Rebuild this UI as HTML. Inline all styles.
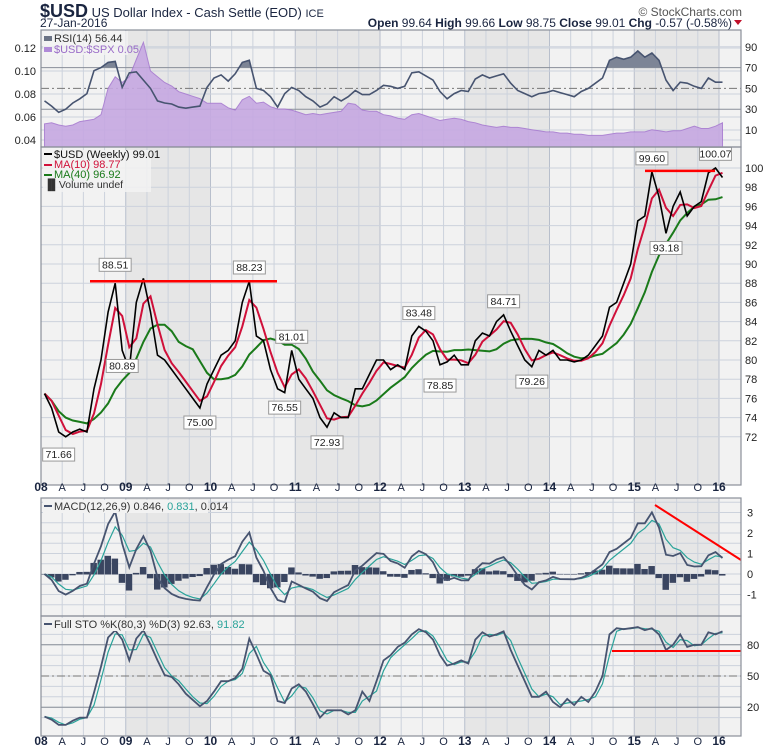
<!DOCTYPE html>
<html><head><meta charset="utf-8"><style>
body{margin:0;background:#fff;font-family:"Liberation Sans",sans-serif}
svg text{font-family:"Liberation Sans",sans-serif}
</style></head><body>
<svg id="c" width="780" height="750" xmlns="http://www.w3.org/2000/svg"></svg>
<script>
const price=[76.5,75,72.5,72,72.5,72.8,72.5,77,80,85,88,81,
79,86,88.5,85,80.5,80,79,78,77,76,75,77.5,
79,80.5,81,82,86,88.2,82.5,82,79,77,76.6,81,
78,77,76,74,73,74.5,74,74,77,77,78.5,80,
80,79,79.5,79,82.5,83.5,83,82,79.5,79.8,80.5,79.5,
79.5,82,82.8,82.5,84,84.7,83,81.5,80,79.3,81,80.5,
81,80,80,79.8,80,80.5,81.5,82.5,85.5,86,88,90,
94.5,95,99.6,97,93.2,96,97.5,95,96,96.5,99.5,100,
99.01];
const ratio=[.054,.055,.053,.052,.053,.056,.057,.058,.062,.085,.095,.09,
.095,.11,.125,.1,.095,.09,.087,.082,.08,.078,.076,.072,
.072,.072,.068,.066,.075,.078,.072,.073,.069,.067,.067,.066,
.064,.062,.063,.062,.063,.064,.065,.072,.071,.066,.065,.065,
.062,.061,.059,.058,.062,.063,.061,.059,.057,.058,.059,.058,
.056,.055,.053,.052,.051,.052,.051,.051,.05,.049,.048,.047,
.047,.046,.046,.045,.045,.044,.044,.044,.045,.046,.046,.047,
.047,.047,.049,.048,.047,.048,.048,.05,.052,.05,.05,.052,
.055];
const rsiVals=[38,33,27,30,36,40,45,67,70,75,76,51,
65,66,58,50,38,36,35,32,31,32,33,51,
60,63,57,64,75,77,50,48,42,32,45,51,
48,42,38,32,35,42,38,42,48,44,44,48,
53,52,50,52,65,66,62,58,47,40,45,48,
47,59,63,60,62,64,55,48,45,42,45,46,
48,46,44,42,47,50,55,60,77,80,78,80,
86,80,84,77,58,48,56,55,52,50,60,56,
56];
const stoVals=[11,8,3,3,7,10,10,34,59,87,94,85,
65,86,94,80,65,51,49,42,33,27,21,26,
35,45,45,48,57,86,71,55,51,26,24,38,
42,35,23,10,17,17,17,13,17,35,26,45,
65,70,78,82,90,95,92,85,70,60,62,65,
62,85,92,88,90,93,75,60,45,30,30,35,
25,20,28,22,30,25,35,50,90,96,95,96,
97,94,96,90,75,80,90,78,80,80,92,90,
93];
const yearLabels=["08","09","10","11","12","13","14","15","16"];
const qLabels=["A","J","O"];
const priceTicks=[72,74,76,78,80,82,84,86,88,90,92,94,96,98,100];
const ratioTicks=[0.04,0.06,0.08,0.10,0.12];
const rsiTicks=[10,30,50,70,90];
const macdTicks=[-1,0,1,2,3];
const stoTicks=[20,50,80];
const annos=[[2,71.66,-1],[10,88.51,1],[11,80.89,-1],[22,75.00,-1],[29,88.23,1],[34,76.55,-1],[35,81.01,1],[40,72.93,-1],[53,83.48,1],[56,78.85,-1],[65,84.71,1],[69,79.26,-1],[86,99.60,1],[88,93.18,-1],[95,100.07,1]];

const S=document.getElementById('c'),NS='http://www.w3.org/2000/svg';
function el(t,a,p){const e=document.createElementNS(NS,t);for(const k in a)e.setAttribute(k,a[k]);(p||S).appendChild(e);return e;}
const L=41,R=741,MW=84.75/12;
const X=i=>L+(i+0.5)*MW;
const P1={t:30,b:147},P2={t:147,b:485},P3={t:498,b:616},P4={t:616,b:736};
const yR=v=>140-(v-0.04)/0.08*92;
const yRSI=v=>130-(v-10)*1.04;
const yP=v=>168+(100-v)*9.6;
const yM=v=>574-v*20.5;
const yS=v=>728-v*1.04;

function sma(a,n){return a.map((v,i)=>{const s=a.slice(Math.max(0,i-n+1),i+1);return s.reduce((x,y)=>x+y,0)/s.length;});}
function ema(a,n){const k=2/(n+1);let e=a[0];return a.map(v=>e=v*k+e*(1-k));}
const ma10=sma(price,2).map((v,i)=>(v+sma(price,3)[i])/2);
const ma40=sma(price,9);
const macd=ema(price,3).map((v,i)=>(v-ema(price,6)[i])*0.9);
const sig=ema(macd,3);
const hist=macd.map((v,i)=>v-sig[i]);
const stoD=sma(stoVals,2);

[P1,P2,P3,P4].forEach((p,pi)=>{
 const g=el('g',{});
 el('rect',{x:L,y:p.t,width:R-L,height:p.b-p.t,fill:'#f2f2f2'},g);
 for(let y=0;y<8;y++){ if(y%2===1) el('rect',{x:L+y*84.75,y:p.t,width:84.75,height:p.b-p.t,fill:'#e6e6e6'},g); }
 for(let m=0;m<=96;m+=3){const x=L+m*MW;el('line',{x1:x,x2:x,y1:p.t,y2:p.b,stroke:m%12===0?'#b8bfcc':'#ccd2dc','stroke-width':1},g);}
});
function hline(y,dash,col){el('line',{x1:L,x2:R,y1:y,y2:y,stroke:col||'#ccd2dc','stroke-dasharray':dash||''});}
ratioTicks.forEach(v=>{hline(yR(v));const t=el('text',{x:36,y:yR(v)+4,'text-anchor':'end','font-size':11,fill:'#222'});t.textContent=v.toFixed(2);});
rsiTicks.forEach(v=>{hline(yRSI(v),v===50?'8,3,2,3':'',v===30||v===70?'#8a8f99':(v===50?'#777':'#ccd2dc'));const t=el('text',{x:745,y:yRSI(v)+4,'font-size':11,fill:'#222'});t.textContent=v;});
priceTicks.forEach(v=>{hline(yP(v));const t=el('text',{x:745,y:yP(v)+4,'font-size':11,fill:'#222'});t.textContent=v;});
for(let v=-1.5;v<=3.5;v+=0.5)hline(yM(v));
macdTicks.forEach(v=>{hline(yM(v));const t=el('text',{x:747,y:yM(v)+4,'font-size':11,fill:'#222'});t.textContent=v;});
for(let v=10;v<=90;v+=10)hline(yS(v));
stoTicks.forEach(v=>{hline(yS(v),v===50?'8,3,2,3':'',v===50?'#777':'#8a8f99');const t=el('text',{x:747,y:yS(v)+4,'font-size':11,fill:'#222'});t.textContent=v;});

function pts(a,fy){return a.map((v,i)=>X(i).toFixed(1)+','+fy(v).toFixed(1)).join(' ');}
let ra=el('polygon',{points:pts(ratio,yR)+' '+X(96)+','+P1.b+' '+X(0)+','+P1.b,fill:'#c6a8e2',stroke:'#a77bd0','stroke-width':1,opacity:0.9});

const cp=el('clipPath',{id:'ob'});el('rect',{x:L,y:P1.t,width:R-L,height:yRSI(70)-P1.t},cp);
el('polygon',{points:pts(rsiVals,yRSI)+' '+X(96)+','+yRSI(70)+' '+X(0)+','+yRSI(70),fill:'#7d8596','clip-path':'url(#ob)'});
let rl=el('polyline',{points:pts(rsiVals,yRSI),fill:'none',stroke:'#475470','stroke-width':1.6});


let m40=el('polyline',{points:pts(ma40,yP),fill:'none',stroke:'#1a7a1a','stroke-width':2});

let m10=el('polyline',{points:pts(ma10,yP),fill:'none',stroke:'#d0103a','stroke-width':2});

let pl=el('polyline',{points:pts(price,yP),fill:'none',stroke:'#000','stroke-width':1.6});

el('line',{x1:90,x2:277,y1:yP(88.2),y2:yP(88.2),stroke:'#f00','stroke-width':2.5});
el('line',{x1:645,x2:715,y1:yP(99.7),y2:yP(99.7),stroke:'#f00','stroke-width':2.5});
annos.forEach(a=>{const x=X(a[0]),y=yP(a[1]);const by=a[2]>0?y-20:y+8;
 const g=el('g',{});
 el('rect',{x:x-16,y:by,width:32,height:13,fill:'#fff',stroke:'#999'},g);
 const t=el('text',{x:x,y:by+10,'font-size':10.5,'text-anchor':'middle',fill:'#222'},g);t.textContent=a[1].toFixed(2);});

hist.forEach((v,i)=>{const b=el('rect',{x:X(i)-MW/2,y:Math.min(yM(0),yM(v)),width:MW-0.6,height:Math.abs(yM(v)-yM(0))+0.5,fill:'#3a4560'});
 });
let sl=el('polyline',{points:pts(sig,yM),fill:'none',stroke:'#2aa39a','stroke-width':1.2});

let ml=el('polyline',{points:pts(macd,yM),fill:'none',stroke:'#475470','stroke-width':1.8});

el('line',{x1:655,y1:505,x2:741,y2:560,stroke:'#f00','stroke-width':2});
let sd=el('polyline',{points:pts(stoD,yS),fill:'none',stroke:'#2aa39a','stroke-width':1.2});

let sk=el('polyline',{points:pts(stoVals,yS),fill:'none',stroke:'#475470','stroke-width':1.8});

el('line',{x1:612,x2:741,y1:651,y2:651,stroke:'#f00','stroke-width':2});

[P1,P2,P3,P4].forEach(p=>el('rect',{x:L,y:p.t,width:R-L,height:p.b-p.t,fill:'none',stroke:'#8a8f99','stroke-width':1.2}));
[491,745].forEach(yy=>{for(let yr=0;yr<9;yr++){let t=el('text',{x:L+yr*84.75,y:yy,'font-size':12,'font-weight':'bold','text-anchor':'middle',fill:'#1a2540'});t.textContent=yearLabels[yr];
 if(yr<8)qLabels.forEach((q,qi)=>{let u=el('text',{x:L+yr*84.75+(qi+1)*3*MW,y:yy,'font-size':11,'text-anchor':'middle',fill:'#1a2540'});u.textContent=q;});}});

function txt(x,y,s,sz,col,w,anchor){const t=el('text',{x:x,y:y,'font-size':sz,fill:col||'#222','font-weight':w||'normal','text-anchor':anchor||'start'});t.textContent=s;return t;}
el('rect',{x:43,y:31,width:85,height:24,fill:'#f2f2f2',opacity:0.8});
el('rect',{x:44,y:36,width:8,height:5,fill:'#6b7385'});txt(54,42,'RSI(14) 56.44',11,'#333');
el('rect',{x:44,y:47,width:8,height:5,fill:'#b08ad8'});txt(54,53,'$USD:$SPX 0.05',11,'#9a6cc8');
el('rect',{x:43,y:150,width:108,height:42,fill:'#f2f2f2',opacity:0.85});
el('rect',{x:44,y:153,width:8,height:2,fill:'#000'});txt(54,158,'$USD (Weekly) 99.01',11,'#111');
el('rect',{x:44,y:164,width:8,height:2,fill:'#d0103a'});txt(54,168,'MA(10) 98.77',11,'#d0103a');
el('rect',{x:44,y:174,width:8,height:2,fill:'#1a7a1a'});txt(54,178,'MA(40) 96.92',11,'#1a7a1a');
txt(44,188,'▐▌Volume undef',10.5,'#333');
el('rect',{x:43,y:500,width:165,height:13,fill:'#f2f2f2'});
el('rect',{x:44,y:505,width:8,height:2,fill:'#475470'});
let mt=txt(54,510,'',11,'#333');mt.innerHTML='MACD(12,26,9) 0.846, <tspan fill="#2aa39a">0.831</tspan>, 0.014';
el('rect',{x:43,y:618,width:185,height:13,fill:'#f2f2f2'});
el('rect',{x:44,y:623,width:8,height:2,fill:'#475470'});
let st=txt(54,628,'',11,'#333');st.innerHTML='Full STO %K(80,3) %D(3) 92.63, <tspan fill="#2aa39a">91.82</tspan>';
let h=txt(40,17,'',13,'#1a2540');h.innerHTML='<tspan font-size="18" font-weight="bold">$USD</tspan> US Dollar Index - Cash Settle (EOD) <tspan font-size="11">ICE</tspan>';

txt(40,27,'27-Jan-2016',12,'#1a2540');
txt(742,16,'© StockCharts.com',12,'#555','normal','end');
let q=txt(732,27,'',12,'#1a2540','normal','end');
q.innerHTML='<tspan font-weight="bold">Open</tspan> 99.64  <tspan font-weight="bold">High</tspan> 99.66  <tspan font-weight="bold">Low</tspan> 98.75  <tspan font-weight="bold">Close</tspan> 99.01  <tspan font-weight="bold">Chg</tspan> -0.57 (-0.58%)';

el('polygon',{points:'734,20 742,20 738,25',fill:'#c0102a'});
</script>
</body></html>
